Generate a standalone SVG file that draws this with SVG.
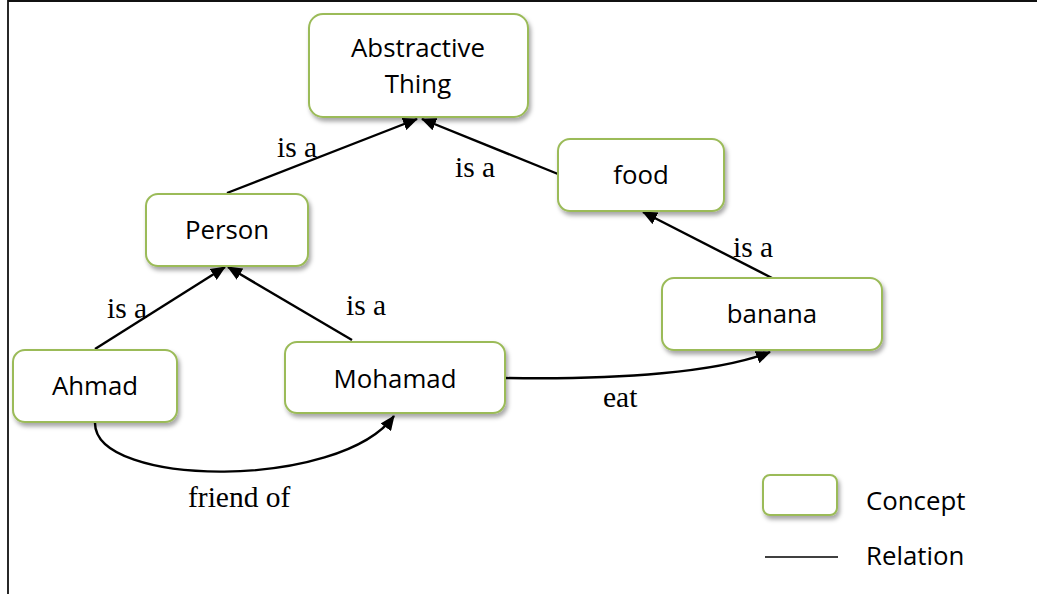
<svg xmlns="http://www.w3.org/2000/svg" width="1037" height="594" viewBox="0 0 1037 594">
  <style>
    .box { fill: #ffffff; stroke: #9bbb59; stroke-width: 2; filter: url(#shadow); }
    .lbl { font-family: "Open Sans", "Liberation Sans", sans-serif; font-size: 25.8px; fill: #000; text-anchor: middle; }
    .rel { font-family: "Liberation Serif", "Times New Roman", serif; font-size: 29.5px; fill: #000; }
    .edge { fill: none; stroke: #000; stroke-width: 2.4; marker-end: url(#arrow); }
    .frame { stroke: #111; stroke-width: 1.8; }
  </style>
  <defs>
    <filter id="shadow" x="-10%" y="-10%" width="130%" height="140%">
      <feDropShadow dx="2" dy="3.5" stdDeviation="2" flood-color="#000" flood-opacity="0.35"/>
    </filter>
    <marker id="arrow" markerUnits="userSpaceOnUse" markerWidth="15" markerHeight="13" refX="14" refY="6.5" orient="auto">
      <path d="M0,0 L15,6.5 L0,13 Z" fill="#000"/>
    </marker>
  </defs>

  <rect width="1037" height="594" fill="#ffffff"/>
  <!-- frame -->
  <line class="frame" x1="8" y1="1" x2="1037" y2="1"/>
  <line class="frame" x1="8" y1="0" x2="8" y2="594"/>

  <!-- relations -->
  <g id="connectors">
    <path class="edge" d="M227,193 L417,119"/>
    <path class="edge" d="M558,174 L422,119"/>
    <path class="edge" d="M95,349 L225,267"/>
    <path class="edge" d="M352,340 L228,267"/>
    <path class="edge" d="M772,278 L643,212"/>
    <path class="edge" d="M505,378 C620,380 720,372 770,352"/>
    <path class="edge" d="M95,423 C95,488 340,490 394,416"/>
    <text class="rel" x="277" y="157">is a</text>
    <text class="rel" x="455" y="177">is a</text>
    <text class="rel" x="107" y="318">is a</text>
    <text class="rel" x="346" y="315">is a</text>
    <text class="rel" x="733" y="257">is a</text>
    <text class="rel" x="603" y="407">eat</text>
    <text class="rel" x="188" y="507">friend of</text>
  </g>

  <!-- concepts -->
  <g id="abstractive-thing">
    <rect class="box" x="309" y="14" width="219" height="103" rx="14"/>
    <text class="lbl" x="418" y="57">Abstractive</text>
    <text class="lbl" x="418" y="93">Thing</text>
  </g>
  <g id="person">
    <rect class="box" x="146" y="194" width="162" height="72" rx="12"/>
    <text class="lbl" x="227" y="239">Person</text>
  </g>
  <g id="food">
    <rect class="box" x="558" y="139" width="166" height="72" rx="12"/>
    <text class="lbl" x="641" y="184">food</text>
  </g>
  <g id="banana">
    <rect class="box" x="662" y="278" width="220" height="72" rx="12"/>
    <text class="lbl" x="772" y="323">banana</text>
  </g>
  <g id="ahmad">
    <rect class="box" x="13" y="350" width="164" height="72" rx="12"/>
    <text class="lbl" x="95" y="395">Ahmad</text>
  </g>
  <g id="mohamad">
    <rect class="box" x="285" y="342" width="220" height="71" rx="12"/>
    <text class="lbl" x="395" y="388">Mohamad</text>
  </g>

  <!-- legend -->
  <g id="legend">
    <rect class="box" x="763" y="475" width="74" height="40" rx="7"/>
    <text class="lbl" x="866" y="510" style="text-anchor:start">Concept</text>
    <line x1="765" y1="557" x2="838" y2="557" stroke="#000" stroke-width="1.5"/>
    <text class="lbl" x="866" y="565" style="text-anchor:start">Relation</text>
  </g>
</svg>
